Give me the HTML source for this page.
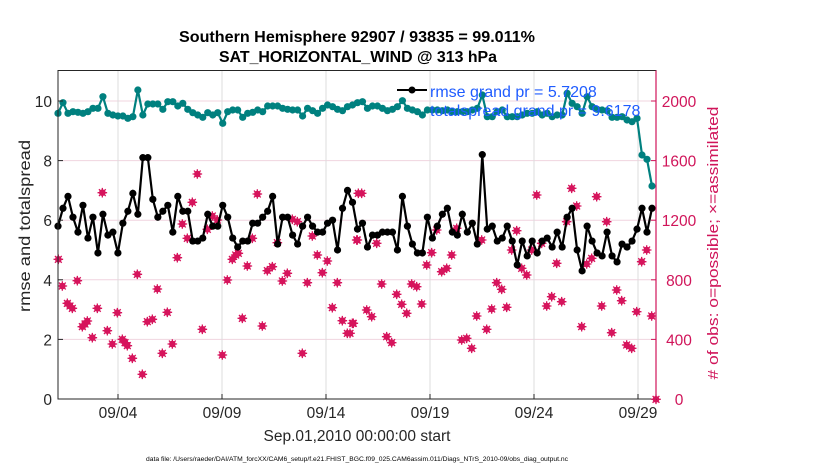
<!DOCTYPE html>
<html><head><meta charset="utf-8"><style>
html,body{margin:0;padding:0;background:#fff;width:830px;height:470px;overflow:hidden}
svg{display:block;font-family:"Liberation Sans",Arial,sans-serif}
</style></head><body>
<svg id="s" width="830" height="470" xmlns="http://www.w3.org/2000/svg">
<rect width="830" height="470" fill="#fff"/>
<g id="grid"></g>
<g id="data"></g>
<rect x="58" y="70.5" width="598" height="328.5" fill="none" stroke="#262626" stroke-width="1"/>
<line x1="656" y1="70.5" x2="656" y2="399" stroke="#d0155a" stroke-width="1.2"/>
<g id="ticks"></g>
<text x="357" y="42" text-anchor="middle" font-size="15.5" font-weight="bold" fill="#000" textLength="356" lengthAdjust="spacingAndGlyphs">Southern Hemisphere 92907 / 93835 = 99.011%</text>
<text x="358" y="62" text-anchor="middle" font-size="15.5" font-weight="bold" fill="#000" textLength="278" lengthAdjust="spacingAndGlyphs">SAT_HORIZONTAL_WIND @ 313 hPa</text>
<text transform="translate(30,226) rotate(-90)" text-anchor="middle" font-size="15.5" fill="#262626" textLength="172" lengthAdjust="spacingAndGlyphs">rmse and totalspread</text>
<text transform="translate(718,243) rotate(-90)" text-anchor="middle" font-size="15" fill="#d0155a" textLength="273" lengthAdjust="spacingAndGlyphs"># of obs: o=possible; ×=assimilated</text>
<text x="357" y="441" text-anchor="middle" font-size="15.5" fill="#262626">Sep.01,2010 00:00:00 start</text>
<text x="357" y="461" text-anchor="middle" font-size="6.8" fill="#000" textLength="422" lengthAdjust="spacingAndGlyphs">data file: /Users/raeder/DAI/ATM_forcXX/CAM6_setup/f.e21.FHIST_BGC.f09_025.CAM6assim.011/Diags_NTrS_2010-09/obs_diag_output.nc</text>
<line x1="397" y1="90" x2="427" y2="90" stroke="#000" stroke-width="2"/>
<circle cx="412" cy="90" r="3.5" fill="#000"/>
<text x="430" y="97" font-size="16" fill="#1f5cff">rmse grand pr = 5.7208</text>
<text x="430" y="116" font-size="16" fill="#1f5cff">totalspread grand pr = 9.6178</text>
</svg>
<script>
const NS="http://www.w3.org/2000/svg";
function el(p,t,a){const e=document.createElementNS(NS,t);for(const k in a)e.setAttribute(k,a[k]);p.appendChild(e);return e;}
const Y=v=>399-v*29.8;
const grid=document.getElementById('grid'),ticks=document.getElementById('ticks'),data=document.getElementById('data');
for(let v=0;v<=10;v+=2){const y=Y(v);
 if(v>0)el(grid,'line',{x1:58,x2:656,y1:y,y2:y,stroke:'#f0d4df','stroke-width':1});
 el(ticks,'line',{x1:58,x2:63,y1:y,y2:y,stroke:'#262626'});
 el(ticks,'line',{x1:651,x2:656,y1:y,y2:y,stroke:'#d0155a'});
 const t=el(ticks,'text',{x:52,y:y+6,'text-anchor':'end','font-size':15.5,fill:'#262626'});t.textContent=v;
 const r=el(ticks,'text',{x:679,y:y+6,'text-anchor':'middle','font-size':15.5,fill:'#d0155a'});r.textContent=v*200;}
const xl=['09/04','09/09','09/14','09/19','09/24','09/29'];
xl.forEach((l,i)=>{const x=118+i*104;
 el(grid,'line',{x1:x,x2:x,y1:70.5,y2:399,stroke:'#dcdcdc','stroke-width':1});
 el(ticks,'line',{x1:x,x2:x,y1:399,y2:394,stroke:'#262626'});
 const t=el(ticks,'text',{x:x,y:418,'text-anchor':'middle','font-size':15.5,fill:'#262626'});t.textContent=l;});
const r1=[[25,598],[37,678],[52,730],[60,738],[67,745],[82,662],[97,800],[105,792],[112,783],[127,833],[142,745],[157,398],[172,812],[187,852],[202,758],[217,838],[225,848],[232,857],[247,895],[262,643],[277,943],[292,785],[307,778],[322,687],[337,880],[352,757],[367,852],[382,593],[397,492],[412,535],[427,427],[442,342],[457,808],[472,508],[487,468],[502,480],[517,885],[532,660],[547,598],[557,585],[565,580],[592,618],[577,775],[607,535],[622,402],[637,798],[652,632],[667,620],[682,548],[697,663],[712,640],[727,478],[742,485],[757,880],[772,668],[787,528],[802,585],[817,638],[832,603],[847,743],[862,668],[877,782],[892,820],[907,790],[922,540],[925,400]];
const r2=[[0,820],[10,790],[20,540],[35,400],[50,750],[65,770],[80,550],[95,672],[110,830],[125,848],[140,703],[155,733],[170,760],[185,672],[200,680],[215,732],[230,615],[245,578],[260,510],[275,635],[290,625],[305,585],[320,505],[335,840],[350,835],[365,865],[380,768],[395,540],[410,808],[425,747],[440,668],[455,688],[470,742],[485,570],[500,512],[515,625],[530,645],[545,570],[560,405],[575,550],[590,738],[605,710],[620,610],[635,725],[650,485],[665,385],[680,438],[695,800],[710,612],[725,595],[740,410],[755,738],[770,485],[785,818],[800,690],[815,722],[830,855],[845,865],[860,755],[875,605],[890,570],[905,768],[918,1018]];
const red=[];r1.forEach(p=>red.push([50+p[0]/3,60+p[1]/3]));r2.forEach(p=>red.push([350+p[0]/3,60+p[1]/3]));
red.forEach(([x,y])=>{el(data,'circle',{cx:x,cy:y,r:3.3,fill:'#d6145c'});
 el(data,'path',{d:`M${x-4.8} ${y}H${x+4.8}M${x} ${y-4.8}V${y+4.8}M${x-3.4} ${y-3.4}L${x+3.4} ${y+3.4}M${x-3.4} ${y+3.4}L${x+3.4} ${y-3.4}`,stroke:'#d6145c','stroke-width':1.3});});
const t1=[160,128,160,155,157,160,155,145,145,110,160,165,168,168,175,170,90,165,132,132,132,148,125,125,138,130,148,158,165,172,158,165,158,190,155,150,150,172,160,157,150,155,138,138,138,145,148,150,150,168,145,152,160,145,135,140,148,152,140,135,128];
const t2=[125,145,138,138,145,152,148,140,122,145,150,155,165,150,150,150,152,150,155,155,155,155,150,145,105,170,170,155,150,170,170,170,165,160,160,155,165,160,170,165,165,100,130,140,160,110,140,148,150,152,172,172,170,180,185,175,285,298,378];
const teal=t1.map(y=>(339-y/3)/29.8).concat(t2.map(y=>(339-y/3)/29.8));
const blk=[5.8,6.4,6.8,6.1,5.6,6.5,5.4,6.1,4.9,6.2,5.5,5.6,4.9,5.9,6.3,6.9,6.2,8.1,8.1,6.7,6.1,6.3,6.5,5.6,6.8,6.3,6.3,5.3,5.3,5.4,6.2,5.8,5.8,6.5,6.1,5.4,5.1,5.3,5.3,5.9,5.9,6.1,6.3,6.8,5.2,6.1,6.1,5.5,5.2,5.8,6.1,5.8,5.6,5.6,5.9,6.0,5.0,6.4,7.0,6.6,5.7,
5.9,5.1,5.5,5.5,5.6,5.6,5.6,5.0,6.8,5.8,5.2,4.9,4.9,6.1,5.4,5.8,6.2,6.4,5.6,5.5,6.2,5.6,5.9,5.2,8.2,5.7,5.8,5.3,5.4,5.8,5.3,4.5,5.3,4.8,5.3,4.9,5.3,5.4,5.1,5.6,5.1,6.1,6.4,5.0,4.3,5.8,5.3,4.9,4.8,5.6,4.8,4.6,5.2,5.1,5.3,5.7,6.4,5.6,6.4];
function series(vals,col){const n=vals.length,st=(652-58)/(n-1);
 const pts=vals.map((v,i)=>[58+i*st,Y(v)]);
 el(data,'polyline',{points:pts.map(p=>p.join(',')).join(' '),fill:'none',stroke:col,'stroke-width':2.2});
 pts.forEach(([x,y])=>el(data,'circle',{cx:x,cy:y,r:3.6,fill:col}));}
series(teal,'#00807f');series(blk,'#000');
</script>
</body></html>
